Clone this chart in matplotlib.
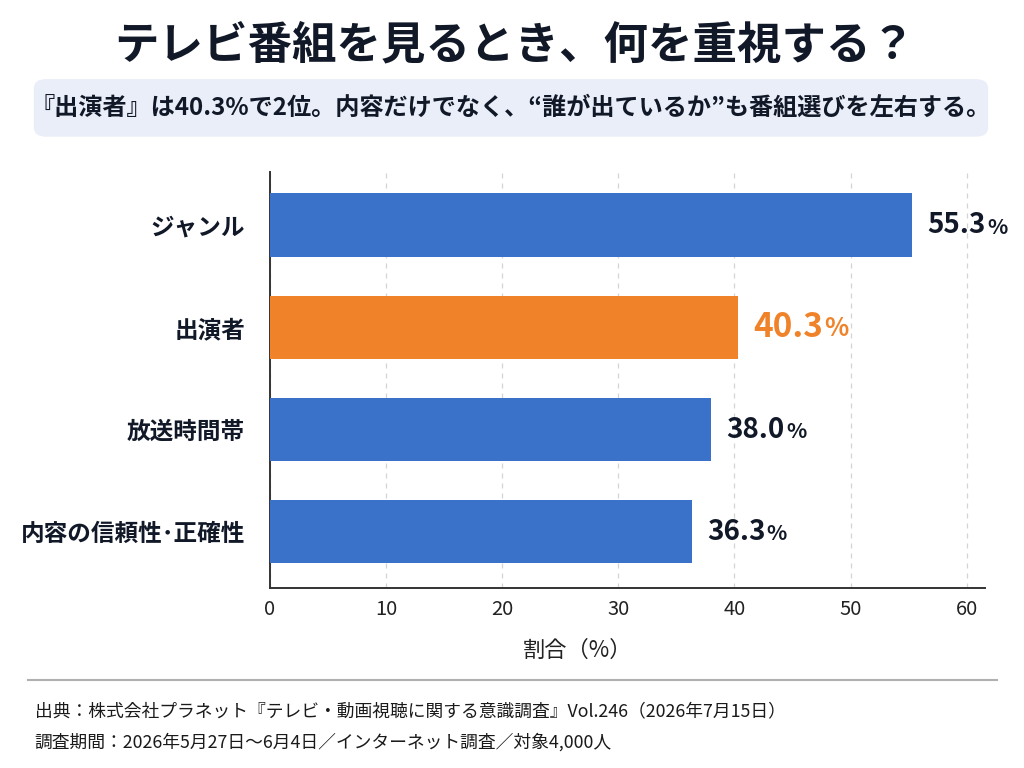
"""TV program viewing priorities: horizontal bar chart."""

import matplotlib
matplotlib.use("Agg")
import matplotlib.pyplot as plt
from matplotlib.patches import FancyBboxPatch

plt.rcParams["font.family"] = ["Noto Sans CJK JP", "DejaVu Sans"]

CATEGORIES = ["ジャンル", "出演者", "放送時間帯", "内容の信頼性･正確性"]
VALUES = [55.3, 40.3, 38.0, 36.3]
HIGHLIGHT = "出演者"
X_TICKS = [0, 10, 20, 30, 40, 50, 60]

TITLE = "テレビ番組を見るとき、何を重視する？"
SUBTITLE = "『出演者』は40.3%で2位。内容だけでなく、“誰が出ているか”も番組選びを左右する。"
X_LABEL = "割合（%）"
SOURCE_LINES = [
    "出典：株式会社プラネット『テレビ・動画視聴に関する意識調査』Vol.246（2026年7月15日）",
    "調査期間：2026年5月27日～6月4日／インターネット調査／対象4,000人",
]

COLORS = {
    "blue": "#3a72c9",
    "orange": "#f08329",
    "text": "#111827",
    "grid": "#d4d4d4",
    "box": "#e9eef8",
}


def main() -> None:
    fig = plt.figure(figsize=(10.24, 7.68), dpi=100, facecolor="white")
    ax = fig.add_axes([0.2637, 0.2344, 0.6985, 0.5417])

    ypos = list(range(len(CATEGORIES)))
    colors = [COLORS["orange"] if c == HIGHLIGHT else COLORS["blue"] for c in CATEGORIES]
    ax.barh(ypos, VALUES, height=0.62, color=colors, zorder=3)

    ax.set_xlim(0, 61.6)
    ax.set_ylim(3.55, -0.52)
    ax.set_xticks(X_TICKS)
    ax.set_xticklabels([str(t) for t in X_TICKS], fontsize=14.5, color="#222222")
    ax.set_yticks(ypos)
    ax.set_yticklabels(CATEGORIES, fontsize=17, fontweight="bold", color=COLORS["text"])
    ax.tick_params(axis="both", length=0)
    ax.tick_params(axis="x", pad=8)
    ax.tick_params(axis="y", pad=18)
    ax.grid(axis="x", linestyle=(0, (4, 4)), color=COLORS["grid"], linewidth=0.9, zorder=0)
    ax.spines["top"].set_visible(False)
    ax.spines["right"].set_visible(False)
    for side in ("left", "bottom"):
        ax.spines[side].set_color("#333333")
        ax.spines[side].set_linewidth(1.4)

    for y, v, c in zip(ypos, VALUES, CATEGORIES):
        hl = c == HIGHLIGHT
        col = COLORS["orange"] if hl else COLORS["text"]
        size = 24 if hl else 20
        txt = ax.annotate(f"{v:.1f}", xy=(v, y), xytext=(11, 0), textcoords="offset points",
                          ha="left", va="center", fontsize=size, fontweight="bold", color=col)
        ax.annotate("%", xy=(1, 0), xycoords=txt, xytext=(1, 1), textcoords="offset points",
                    ha="left", va="bottom", fontsize=size * 0.76, fontweight="bold", color=col)

    fig.text(0.5635, 0.153, X_LABEL, ha="center", va="center", fontsize=16, color="#222222")

    fig.text(0.503, 0.941, TITLE, ha="center", va="center", fontsize=32, fontweight="bold",
             color=COLORS["text"])
    box = FancyBboxPatch((0.033, 0.822), 0.932, 0.075, boxstyle="round,pad=0,rounding_size=0.012",
                         transform=fig.transFigure, facecolor=COLORS["box"], edgecolor="none")
    fig.patches.append(box)
    fig.text(0.499, 0.860, SUBTITLE, ha="center", va="center", fontsize=17.4, fontweight="bold",
             color=COLORS["text"])

    fig.add_artist(plt.Line2D([0.027, 0.974], [0.115, 0.115], transform=fig.transFigure,
                              color="#b0b0b0", linewidth=1.5))
    fig.text(0.034, 0.074, SOURCE_LINES[0], ha="left", va="center", fontsize=12.8, color="#1a1a1a")
    fig.text(0.034, 0.034, SOURCE_LINES[1], ha="left", va="center", fontsize=12.8, color="#1a1a1a")

    fig.savefig("out.png", dpi=100, facecolor="white")
    plt.close(fig)


if __name__ == "__main__":
    main()
